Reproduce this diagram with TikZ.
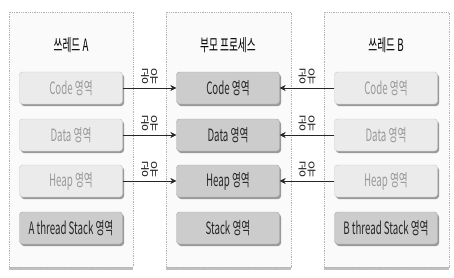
\documentclass[tikz,border=0pt]{standalone}
\usepackage{fontspec}
\setmainfont{Noto Sans CJK KR}[FakeStretch=0.57]
\usetikzlibrary{arrows.meta,shadows}
\begin{document}
\begin{tikzpicture}[
  x=1pt,
  y=-1pt,
  font=\fontsize{17}{19}\selectfont,
  panel/.style={draw=black!30, densely dotted, line width=0.8pt, fill=black!2,
    drop shadow={shadow xshift=0pt, shadow yshift=-2.5pt, fill=black!25, opacity=1}},
  area/.style={draw=black!22, fill=black!8, text=black!40, rounded corners=3pt,
    minimum width=103pt, minimum height=32pt, inner sep=0pt,
    drop shadow={shadow xshift=1.5pt, shadow yshift=-2pt, fill=black!40, opacity=1}},
  own/.style={area, draw=black!35, fill=black!20, text=black!85},
  share/.style={-{Stealth[length=6pt, width=6pt]}, black!85, line width=0.6pt}
]
\useasboundingbox (0,0) rectangle (454,277);

% panels
\draw[panel] (9,12) rectangle (133,267);
\draw[panel] (166,12) rectangle (291,267);
\draw[panel] (324,12) rectangle (449,267);

% thread A
\node (titleA) at (71,45) {쓰레드 A};
\node[area] (codeA) at (71,88) {Code 영역};
\node[area] (dataA) at (71,135) {Data 영역};
\node[area] (heapA) at (71,181) {Heap 영역};
\node[own] (stackA) at (71,228) {A thread Stack 영역};

% parent process
\node (titleP) at (228,45) {부모 프로세스};
\node[own] (codeP) at (228,88) {Code 영역};
\node[own] (dataP) at (228,135) {Data 영역};
\node[own] (heapP) at (228,181) {Heap 영역};
\node[own] (stackP) at (228,228) {Stack 영역};

% thread B
\node (titleB) at (386,45) {쓰레드 B};
\node[area] (codeB) at (386,88) {Code 영역};
\node[area] (dataB) at (386,135) {Data 영역};
\node[area] (heapB) at (386,181) {Heap 영역};
\node[own] (stackB) at (386,228) {B thread Stack 영역};

\foreach \seg in {code,data,heap} {
  \draw[share] (\seg A) -- node[above=1pt] {공유} (\seg P);
  \draw[share] (\seg B) -- node[above=1pt] {공유} (\seg P);
}
\end{tikzpicture}
\end{document}
